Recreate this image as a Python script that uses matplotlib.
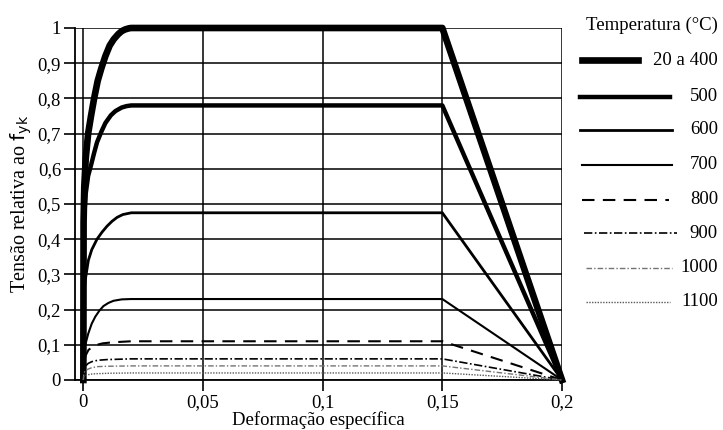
import matplotlib.pyplot as plt
from matplotlib.lines import Line2D


plt.rcParams['font.family'] = ['Liberation Serif', 'DejaVu Serif']

# temperaturas (legenda)
temps = ['20 a 400', '500', '600', '700', '800', '900', '1000', '1100']

# curvas tensao-deformacao
eps_20_400 = [0, 0.0001, 0.0004, 0.0010, 0.0020, 0.0032, 0.0045, 0.0060, 0.0075,
              0.0092, 0.0110, 0.0127, 0.0145, 0.0160, 0.0175, 0.0190, 0.02, 0.15, 0.2]
sig_20_400 = [0, 0.45, 0.55, 0.63, 0.70, 0.75, 0.80, 0.85, 0.885,
              0.92, 0.95, 0.968, 0.982, 0.991, 0.996, 0.999, 1.0, 1.0, 0]

eps_500 = [0, 0.0002, 0.0010, 0.0020, 0.0032, 0.0045, 0.0057, 0.0075, 0.0092,
           0.0115, 0.0134, 0.0160, 0.0180, 0.02, 0.15, 0.2]
sig_500 = [0, 0.45, 0.53, 0.58, 0.61, 0.645, 0.675, 0.705, 0.73,
           0.752, 0.764, 0.774, 0.778, 0.78, 0.78, 0]

eps_600 = [0, 0.0002, 0.0008, 0.0014, 0.0021, 0.0035, 0.0057, 0.0078, 0.0099,
           0.0120, 0.0141, 0.0165, 0.02, 0.15, 0.2]
sig_600 = [0, 0.24, 0.284, 0.31, 0.34, 0.37, 0.40, 0.42, 0.437,
           0.451, 0.462, 0.47, 0.475, 0.475, 0]

eps_700 = [0, 0.0002, 0.0008, 0.0021, 0.0035, 0.0050, 0.0067, 0.0084, 0.0105,
           0.0126, 0.0160, 0.02, 0.15, 0.2]
sig_700 = [0, 0.08, 0.10, 0.133, 0.16, 0.18, 0.197, 0.210, 0.219,
           0.225, 0.229, 0.23, 0.23, 0]

eps_800 = [0, 0.0002, 0.0010, 0.0021, 0.0035, 0.0057, 0.0080, 0.0120, 0.02, 0.15, 0.2]
sig_800 = [0, 0.05, 0.07, 0.085, 0.093, 0.100, 0.104, 0.107, 0.11, 0.11, 0]

eps_low = [0, 0.0002, 0.0010, 0.0020, 0.0035, 0.0060, 0.0100, 0.02, 0.15, 0.2]
sig_900 = [0, 0.03, 0.04, 0.047, 0.052, 0.056, 0.058, 0.06, 0.06, 0]
sig_1000 = [0, 0.02, 0.027, 0.031, 0.035, 0.038, 0.039, 0.04, 0.04, 0]
sig_1100 = [0, 0.01, 0.013, 0.015, 0.017, 0.018, 0.019, 0.02, 0.02, 0]

xticks = [0, 0.05, 0.1, 0.15, 0.2]
xticklabels = ['0', '0,05', '0,1', '0,15', '0,2']
yticks = [0, 0.1, 0.2, 0.3, 0.4, 0.5, 0.6, 0.7, 0.8, 0.9, 1.0]
yticklabels = ['0', '0,1', '0,2', '0,3', '0,4', '0,5', '0,6', '0,7', '0,8', '0,9', '1']

curves = [
    (eps_20_400, sig_20_400),
    (eps_500, sig_500),
    (eps_600, sig_600),
    (eps_700, sig_700),
    (eps_800, sig_800),
    (eps_low, sig_900),
    (eps_low, sig_1000),
    (eps_low, sig_1100),
]
styles = [
    dict(color='black', lw=4.8, ls='-'),
    dict(color='black', lw=3.2, ls='-'),
    dict(color='black', lw=2.0, ls='-'),
    dict(color='black', lw=1.5, ls='-'),
    dict(color='black', lw=1.5, ls=(0, (6, 4))),
    dict(color='black', lw=1.2, ls=(0, (5, 1.5, 1, 1.5))),
    dict(color='0.45', lw=1.0, ls=(0, (4, 1.5, 1, 1.5))),
    dict(color='0.35', lw=1.0, ls=(0, (1, 1))),
]

fig = plt.figure(figsize=(7.23, 4.30), dpi=100)
ax = fig.add_axes([0.1037, 0.1163, 0.6736, 0.8186])

for (x, y), st in zip(curves, styles):
    ax.plot(x, y, solid_joinstyle='round', clip_on=False, zorder=3, **st)

ax.set_xlim(-0.0035, 0.2)
ax.set_ylim(0, 1.0)
ax.set_xticks(xticks)
ax.set_xticklabels(xticklabels)
ax.set_yticks(yticks)
ax.set_yticklabels(yticklabels)
ax.tick_params(direction='out', length=8, width=1.2, labelsize=13.5, pad=2)
ax.grid(True, color='black', lw=1.1, zorder=1)
ax.set_axisbelow(True)

for s in ['left', 'bottom']:
    ax.spines[s].set_linewidth(1.3)
for s in ['top', 'right']:
    ax.spines[s].set_visible(False)

ax.set_xlabel('Deformação específica', fontsize=13.5, labelpad=0)
ax.set_ylabel(r'Tensão relativa ao $\mathrm{f_{yk}}$', fontsize=14.5, labelpad=3)

# legenda desenhada a parte
fig.text(0.993, 0.94, 'Temperatura (°C)', ha='right', va='center', fontsize=13.5)
leg_y = [0.86, 0.775, 0.698, 0.617, 0.535, 0.458, 0.377, 0.298]
leg_x0 = [0.805, 0.802, 0.802, 0.805, 0.805, 0.808, 0.81, 0.81]
leg_x1 = [0.882, 0.927, 0.930, 0.930, 0.925, 0.937, 0.930, 0.927]
for lab, st, yy, x0, x1 in zip(temps, styles, leg_y, leg_x0, leg_x1):
    fig.add_artist(Line2D([x0, x1], [yy, yy], transform=fig.transFigure, **st))
    fig.text(0.993, yy, lab, ha='right', va='center', fontsize=13.5)

fig.savefig('out.png', dpi=100)
